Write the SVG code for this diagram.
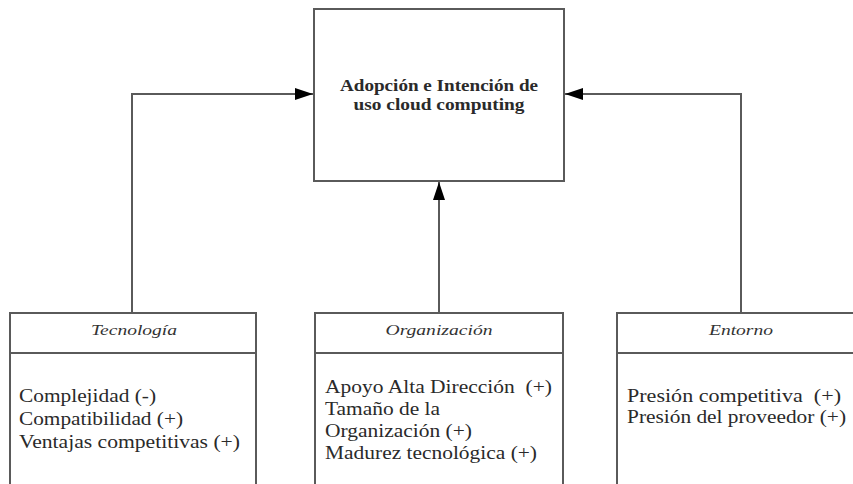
<svg xmlns="http://www.w3.org/2000/svg" width="853" height="484" viewBox="0 0 853 484">
<style>
.box{fill:#fff;stroke:#5a5a5a;stroke-width:2}
.div{stroke:#5a5a5a;stroke-width:2}
.conn{fill:none;stroke:#5a5a5a;stroke-width:2}
.t{font-family:"Liberation Serif","Times New Roman",serif;fill:#2a2a2a}
.main{font-size:17px;font-weight:bold;text-anchor:middle}
.head{font-size:15px;font-style:italic;text-anchor:middle;fill:#333}
.item{font-size:19px}
</style>
<defs>
<marker id="arr" viewBox="0 0 18 12" refX="18" refY="6" markerWidth="18" markerHeight="12" markerUnits="userSpaceOnUse" orient="auto">
<path d="M0,0 L18,6 L0,12 Z" fill="#000"/>
</marker>
</defs>
<rect width="853" height="484" fill="#fff"/>
<g id="connectors">
<path class="conn" d="M132,313 V94 H313" marker-end="url(#arr)"/>
<path class="conn" d="M741,313 V94 H565" marker-end="url(#arr)"/>
<path class="conn" d="M439,313 V182" marker-end="url(#arr)"/>
</g>
<g id="adopcion">
<rect class="box" x="314" y="9" width="250" height="172"/>
<text class="t main" x="439" y="91" textLength="198" lengthAdjust="spacingAndGlyphs">Adopción e Intención de</text>
<text class="t main" x="439" y="110" textLength="171" lengthAdjust="spacingAndGlyphs">uso cloud computing</text>
</g>
<g id="tecnologia">
<rect class="box" x="10" y="313" width="246" height="190"/>
<line class="div" x1="10" y1="353" x2="256" y2="353"/>
<text class="t head" x="134" y="335" textLength="86" lengthAdjust="spacingAndGlyphs">Tecnología</text>
<text class="t item" x="19" y="402" textLength="137" lengthAdjust="spacingAndGlyphs">Complejidad (-)</text>
<text class="t item" x="19" y="425" textLength="164" lengthAdjust="spacingAndGlyphs">Compatibilidad (+)</text>
<text class="t item" x="19" y="448" textLength="221" lengthAdjust="spacingAndGlyphs">Ventajas competitivas (+)</text>
</g>
<g id="organizacion">
<rect class="box" x="315" y="313" width="248" height="190"/>
<line class="div" x1="315" y1="353" x2="563" y2="353"/>
<text class="t head" x="439" y="335" textLength="107" lengthAdjust="spacingAndGlyphs">Organización</text>
<text class="t item" x="325" y="393" textLength="227" lengthAdjust="spacingAndGlyphs" xml:space="preserve">Apoyo Alta Dirección  (+)</text>
<text class="t item" x="325" y="415" textLength="115" lengthAdjust="spacingAndGlyphs">Tamaño de la</text>
<text class="t item" x="325" y="437" textLength="147" lengthAdjust="spacingAndGlyphs">Organización (+)</text>
<text class="t item" x="325" y="459" textLength="212" lengthAdjust="spacingAndGlyphs">Madurez tecnológica (+)</text>
</g>
<g id="entorno">
<rect class="box" x="617" y="313" width="260" height="190"/>
<line class="div" x1="617" y1="353" x2="877" y2="353"/>
<text class="t head" x="741" y="335" textLength="64" lengthAdjust="spacingAndGlyphs">Entorno</text>
<text class="t item" x="627" y="402" textLength="214" lengthAdjust="spacingAndGlyphs" xml:space="preserve">Presión competitiva  (+)</text>
<text class="t item" x="627" y="423" textLength="219" lengthAdjust="spacingAndGlyphs">Presión del proveedor (+)</text>
</g>
</svg>
